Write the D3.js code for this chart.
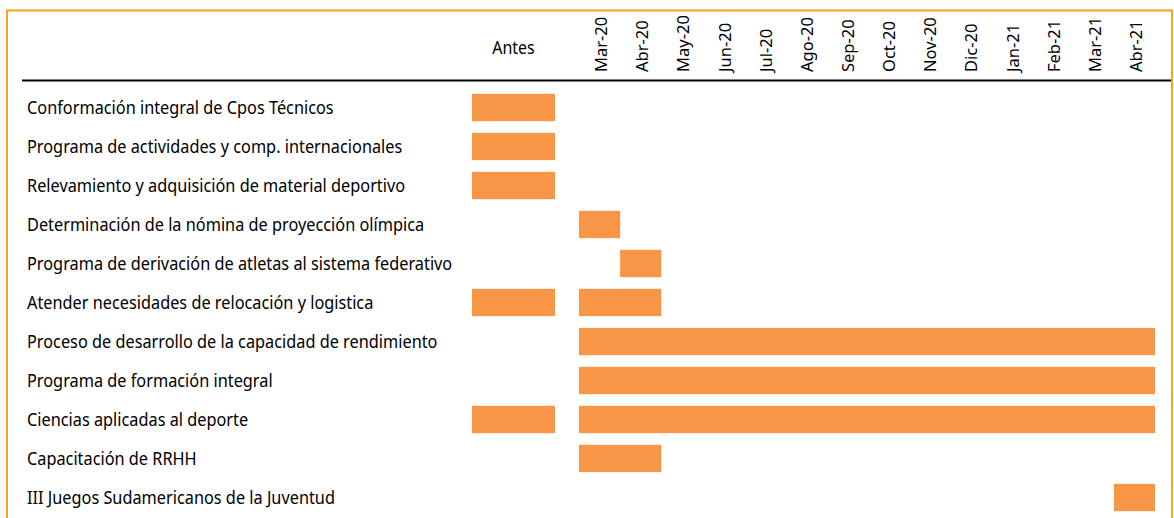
<!DOCTYPE html>
<html><head><meta charset="utf-8">
<script src="https://cdn.jsdelivr.net/npm/d3@7"></script>
<style>body{margin:0;background:#fff}svg{display:block}</style>
</head><body>
<script>
const tasks = [
  "Conformación integral de Cpos Técnicos",
  "Programa de actividades y comp. internacionales",
  "Relevamiento y adquisición de material deportivo",
  "Determinación de la nómina de proyección olímpica",
  "Programa de derivación de atletas al sistema federativo",
  "Atender necesidades de relocación y logistica",
  "Proceso de desarrollo de la capacidad de rendimiento",
  "Programa de formación integral",
  "Ciencias aplicadas al deporte",
  "Capacitación de RRHH",
  "III Juegos Sudamericanos de la Juventud"
];
const antesLabel = ["Antes"];
const months = ["Mar-20","Abr-20","May-20","Jun-20","Jul-20","Ago-20","Sep-20","Oct-20","Nov-20","Dic-20","Jan-21","Feb-21","Mar-21","Abr-21"];
// tasks that have activity "Antes"
const antesTasks = [0,1,2,5,8];
// month spans: [task index, first month, last month]
const monthSpans = [
  [3,"Mar-20","Mar-20"],
  [4,"Abr-20","Abr-20"],
  [5,"Mar-20","Abr-20"],
  [6,"Mar-20","Abr-21"],
  [7,"Mar-20","Abr-21"],
  [8,"Mar-20","Abr-21"],
  [9,"Mar-20","Abr-20"],
  [10,"Abr-21","Abr-21"]
];

const W = 1174, H = 518;
const svg = d3.select("body").append("svg").attr("width", W).attr("height", H);
const font = "'Noto Sans', 'Open Sans', sans-serif";
const barColor = "#F79646";

const xm = d3.scaleBand().domain(months).range([579, 1155]).paddingInner(0);
const xa = d3.scaleBand().domain(antesLabel).range([472, 555]);
const y = d3.scaleBand().domain(d3.range(tasks.length)).range([88, 517]).paddingInner(0.3).paddingOuter(0.15);

// outer border
svg.append("rect").attr("x", 7).attr("y", 10.5).attr("width", 1165).attr("height", 520)
  .attr("fill", "none").attr("stroke", "#FFA11A").attr("stroke-width", 2);

// header rule
svg.append("line").attr("x1", 22).attr("x2", 1171).attr("y1", 80.5).attr("y2", 80.5)
  .attr("stroke", "#000").attr("stroke-width", 2);

// header labels
svg.append("g").selectAll("text").data(antesLabel).join("text")
  .attr("transform", d => `translate(${xa(d) + xa.bandwidth()/2},53.5) scale(1,1.14)`)
  .attr("text-anchor", "middle").attr("font-family", font).attr("font-size", 16)
  .attr("fill", "#000").text(d => d);

svg.append("g").selectAll("text").data(months).join("text")
  .attr("transform", d => `translate(${xm(d) + xm.bandwidth()/2 + 7.5},72) rotate(-90)`)
  .attr("text-anchor", "start").attr("font-family", font).attr("font-size", 16.5)
  .attr("fill", "#000").text(d => d);

// task labels
svg.append("g").selectAll("text").data(tasks).join("text")
  .attr("transform", (d, i) => `translate(27,${y(i) + y.bandwidth()/2 + 6}) scale(1,1.12)`)
  .attr("font-family", font).attr("font-size", 16.3).attr("fill", "#000").text(d => d);

// bars
svg.append("g").selectAll("rect.antes").data(antesTasks).join("rect")
  .attr("x", xa("Antes")).attr("width", xa.bandwidth())
  .attr("y", d => y(d)).attr("height", y.bandwidth()).attr("fill", barColor);

svg.append("g").selectAll("rect.m").data(monthSpans).join("rect")
  .attr("x", d => xm(d[1])).attr("width", d => xm(d[2]) + xm.bandwidth() - xm(d[1]))
  .attr("y", d => y(d[0])).attr("height", y.bandwidth()).attr("fill", barColor);
</script>
</body></html>
